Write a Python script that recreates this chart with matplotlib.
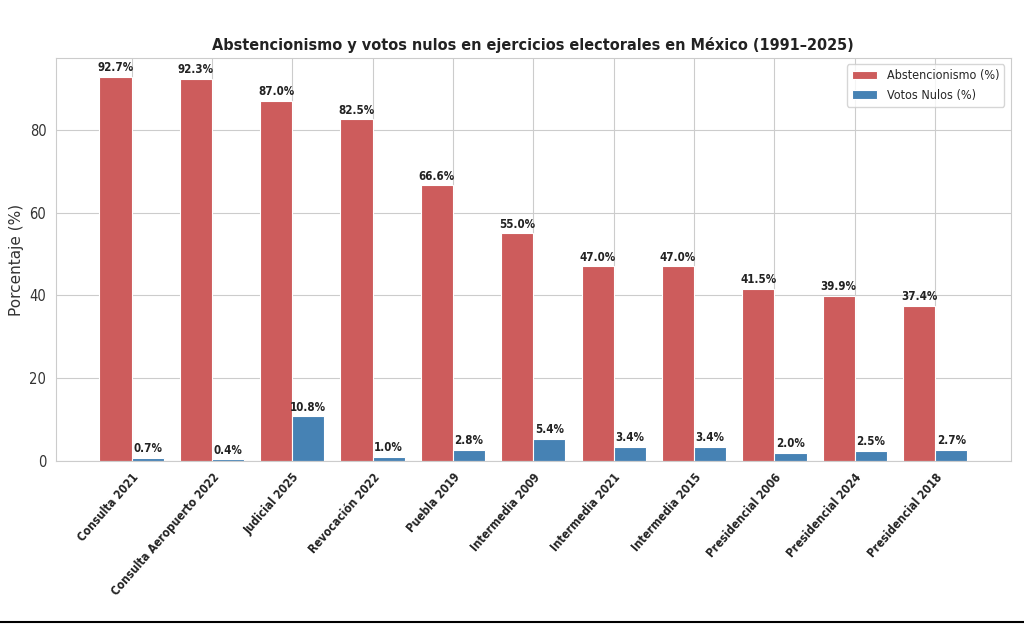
import os
import numpy as np
import matplotlib
matplotlib.use("Agg")
import matplotlib.pyplot as plt
import matplotlib.font_manager as fm
import seaborn as sns
from matplotlib.lines import Line2D

ejercicios = ["Consulta 2021", "Consulta Aeropuerto 2022", "Judicial 2025", "Revocación 2022",
              "Puebla 2019", "Intermedia 2009", "Intermedia 2021", "Intermedia 2015",
              "Presidencial 2006", "Presidencial 2024", "Presidencial 2018"]
abstencion = [92.7, 92.3, 87.0, 82.5, 66.6, 55.0, 47.0, 47.0, 41.5, 39.9, 37.4]
nulos = [0.7, 0.4, 10.8, 1.0, 2.8, 5.4, 3.4, 3.4, 2.0, 2.5, 2.7]


def find_font(names):
    # pick the first installed file among names, else None
    files = {os.path.basename(f.fname): f.fname for f in fm.fontManager.ttflist}
    for n in names:
        if n in files:
            return files[n]
    return None


cond_bold = find_font(["DejaVuSansCondensed-Bold.ttf", "LiberationSansNarrow-Bold.ttf"])
cond_reg = find_font(["DejaVuSansCondensed.ttf", "LiberationSansNarrow-Regular.ttf"])


def fp(size, bold=False):
    f = cond_bold if bold else cond_reg
    if f:
        return fm.FontProperties(fname=f, size=size)
    return fm.FontProperties(family="DejaVu Sans", size=size * 0.9,
                             weight="bold" if bold else "normal")


sns.set_style("whitegrid")
plt.rcParams['font.family'] = ['DejaVu Sans']

fig, ax = plt.subplots(figsize=(10.24, 6.24), dpi=100)
fig.subplots_adjust(left=0.0547, right=0.987, top=0.907, bottom=0.261)

x = np.arange(len(ejercicios))
w = 0.4
b1 = ax.bar(x - w/2, abstencion, w, color="indianred", edgecolor="white", linewidth=0.8,
            label="Abstencionismo (%)")
b2 = ax.bar(x + w/2, nulos, w, color="steelblue", edgecolor="white", linewidth=0.8,
            label="Votos Nulos (%)")

for bars in (b1, b2):
    for r in bars:
        h = r.get_height()
        ax.annotate(f"{h:.1f}%", (r.get_x() + r.get_width()/2, h), xytext=(0, 2),
                    textcoords="offset points", ha="center", va="bottom",
                    fontproperties=fp(8.3, True), color="#222222")

ax.set_ylim(0, max(abstencion) * 1.05)
ax.set_xticks(x)
ax.set_xticklabels(ejercicios, rotation=49, ha="right", rotation_mode="anchor",
                   fontproperties=fp(8.5, True), color="#222222")
for t in ax.get_yticklabels():
    t.set_fontproperties(fp(10.5))
ax.tick_params(axis="y", colors="#333333")
ax.set_ylabel("Porcentaje (%)", fontsize=11, color="#333333")
ax.set_title("Abstencionismo y votos nulos en ejercicios electorales en México (1991–2025)",
             fontproperties=fp(11.6, True), color="#222222")
ax.legend(loc="upper right", prop=fp(9))

fig.add_artist(Line2D([0, 1], [0.004, 0.004], color="black", linewidth=1.5, transform=fig.transFigure))

plt.savefig("out.png", dpi=100)
